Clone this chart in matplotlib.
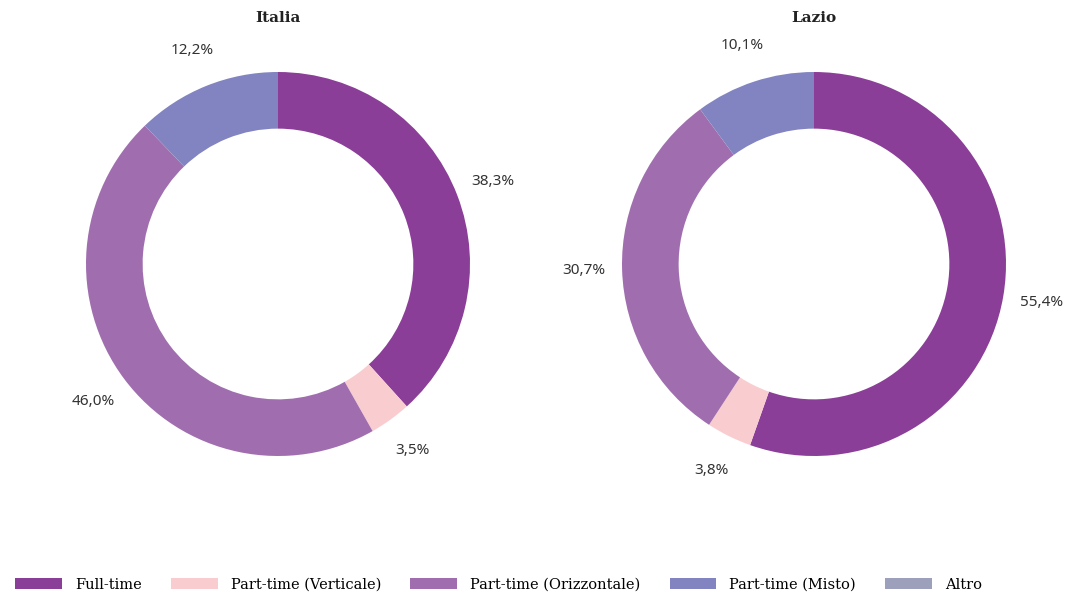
import numpy as np
import matplotlib
matplotlib.use("Agg")
import matplotlib.pyplot as plt
from matplotlib.patches import Patch

# data
categorie = ["Full-time", "Part-time (Verticale)", "Part-time (Orizzontale)",
             "Part-time (Misto)", "Altro"]
colori = ["#8A3E97", "#F9CDCF", "#A06EAF", "#8184C0", "#9CA0BA"]
italia = [38.3, 3.5, 46.0, 12.2, 0.0]
lazio = [55.4, 3.8, 30.7, 10.1, 0.0]
titoli = ["Italia", "Lazio"]

W, H = 1075, 592
fig = plt.figure(figsize=(W / 100, H / 100), dpi=100)

R_PX = 192
K = 1.35
side = 2 * R_PX * K
centri = [(278, 264), (814, 264)]


def fmt(v):
    return f"{v:.1f}".replace(".", ",") + "%"


for (cx, cy), vals, tit in zip(centri, [italia, lazio], titoli):
    ax = fig.add_axes([(cx - side / 2) / W, (H - cy - side / 2) / H, side / W, side / H])
    idx = [i for i, v in enumerate(vals) if v > 0]
    v = [vals[i] for i in idx]
    c = [colori[i] for i in idx]
    wedges, _ = ax.pie(v, colors=c, startangle=90, counterclock=False,
                       radius=1, wedgeprops=dict(width=0.295, linewidth=0))
    # etichette a metà spicchio
    tot = sum(v)
    start = 0.0
    for val in v:
        mid = (start + val / 2) / tot * 2 * np.pi
        start += val
        r = 1.2
        ax.text(r * np.sin(mid), r * np.cos(mid), fmt(val), ha="center", va="center",
                fontsize=11, color="#333333", family=["Noto Sans", "DejaVu Sans"])
    ax.set_xlim(-K, K)
    ax.set_ylim(-K, K)
    ax.set_aspect("equal")
    ax.axis("off")
    fig.text(cx / W, 1 - 18 / H, tit, ha="center", va="center", fontsize=11,
             fontweight="bold", family="DejaVu Serif", color="#222222")

handles = [Patch(facecolor=col, edgecolor="none") for col in colori]
fig.legend(handles, categorie, loc="lower left", bbox_to_anchor=(0.002, -0.022),
           ncol=5, frameon=False, handlelength=3.2, handleheight=0.8,
           columnspacing=2.0, handletextpad=0.9,
           prop=dict(family="DejaVu Serif", size=10.5))

fig.savefig("out.png", dpi=100, facecolor="white")
